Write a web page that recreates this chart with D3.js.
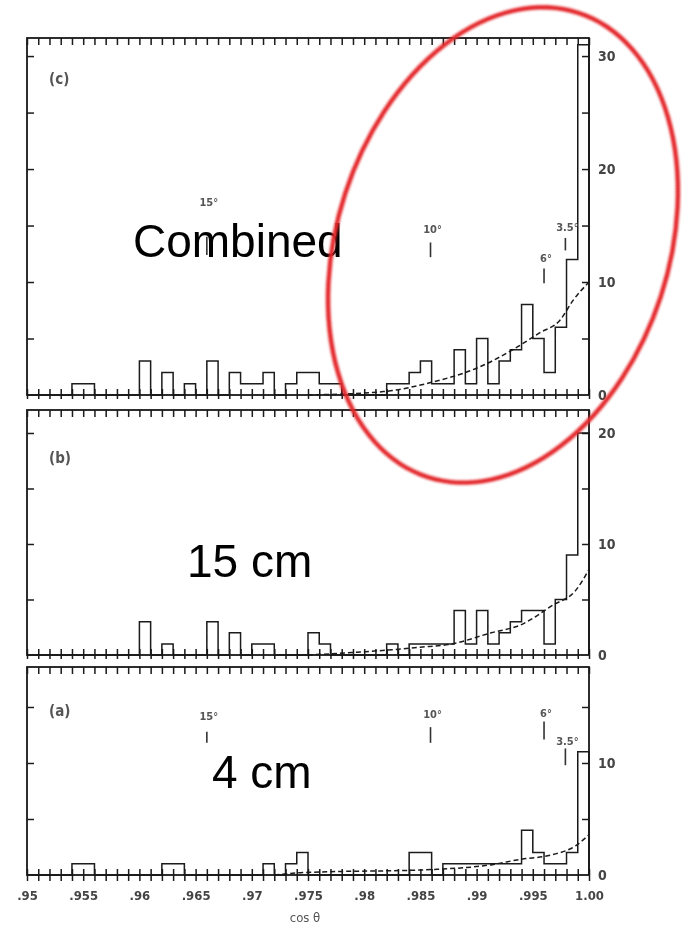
<!DOCTYPE html>
<html lang="en">
<head>
  <meta charset="UTF-8">
  <title>cos theta histograms</title>
  <script src="https://cdnjs.cloudflare.com/ajax/libs/d3/7.8.5/d3.min.js"></script>
  <style>
    body { margin: 0; background: #fff; }
    svg { display: block; }
  </style>
</head>
<body>
<script>
// x axis
const xTickValues = [0.95, 0.955, 0.96, 0.965, 0.97, 0.975, 0.98, 0.985, 0.99, 0.995, 1.0];
const xTickLabels = [".95", ".955", ".96", ".965", ".97", ".975", ".98", ".985", ".99", ".995", "1.00"];
const binStart = 0.95;
const binWidth = 0.001;

// counts per 0.001 bin, from .950 up to 1.000 (50 bins)
const countsC = [0,0,0,0,1,1,0,0,0,0, 3,0,2,0,1,0,3,0,2,1, 1,2,0,1,2,2,1,1,0,0, 0,0,1,1,2,3,1,1,4,1, 5,1,3,4,8,5,2,6,12,31];
const countsB = [0,0,0,0,0,0,0,0,0,0, 3,0,1,0,0,0,3,0,2,0, 1,1,0,0,0,2,1,0,0,0, 0,0,1,0,1,1,1,1,4,1, 4,1,2,3,4,4,1,5,9,20];
const countsA = [0,0,0,0,1,1,0,0,0,0, 0,0,1,1,0,0,0,0,0,0, 0,1,0,1,2,0,0,0,0,0, 0,0,0,0,2,2,0,1,1,1, 1,1,1,1,4,2,1,1,2,11];

// dashed fitted curves
const fitCosC = [0.975, 0.9817, 0.9859, 0.9903, 0.9932, 0.9956, 0.9974, 0.9986, 1.0];
const fitValC = [0, 0.3, 1.1, 2.5, 4.0, 5.5, 6.6, 8.4, 10.0];
const fitCosB = [0.975, 0.9801, 0.9850, 0.9878, 0.9913, 0.9939, 0.9968, 0.9988, 1.0];
const fitValB = [0, 0.3, 0.7, 1.0, 2.0, 2.7, 4.5, 5.8, 7.7];
const fitCosA = [0.972, 0.9743, 0.9863, 0.9912, 0.9939, 0.9967, 0.9988, 1.0];
const fitValA = [0, 0.2, 0.5, 0.9, 1.4, 1.8, 2.6, 3.6];

// angle markers
const markerCos = [0.9660, 0.9859, 0.9960, 0.9979];
const markerLabels = ["15°", "10°", "6°", "3.5°"];

const panelLabels = ["(c)", "(b)", "(a)"];
const overlayLabels = ["Combined", "15 cm", "4 cm"];
const yLabelsC = [0, 10, 20, 30];
const yLabelsB = [0, 10, 20];
const yLabelsA = [0, 10];

const W = 682, H = 930;
const xLeft = 27, xRight = 589;

const svg = d3.select("body").append("svg")
  .attr("width", W).attr("height", H);

const defs = svg.append("defs");
defs.append("filter").attr("id", "scan")
  .append("feGaussianBlur").attr("stdDeviation", 0.55);
defs.append("filter").attr("id", "soft")
  .append("feGaussianBlur").attr("stdDeviation", 0.9);

const x = d3.scaleLinear().domain([0.95, 1.0]).range([xLeft, xRight]);

const minorTicks = d3.range(51).map(i => 0.95 + i * 0.001);

const panels = [
  { counts: countsC, fitCos: fitCosC, fitVal: fitValC, labels: yLabelsC, top: 38, base: 395, max: 31.6,
    name: panelLabels[0], nameY: 84, text: overlayLabels[0], textX: 133, textY: 257,
    markers: [[16.7, 14.0, 12.4], [14.3, 13.5, 12.2], [11.8, 11.2, 9.9], [14.5, 13.9, 12.8]] },
  { counts: countsB, fitCos: fitCosB, fitVal: fitValB, labels: yLabelsB, top: 410, base: 655, max: 22.07,
    name: panelLabels[1], nameY: 463, text: overlayLabels[1], textX: 187, textY: 577, markers: null },
  { counts: countsA, fitCos: fitCosA, fitVal: fitValA, labels: yLabelsA, top: 667, base: 875, max: 18.57,
    name: panelLabels[2], nameY: 716, text: overlayLabels[2], textX: 212, textY: 788,
    markers: [[13.8, 12.8, 11.8], [14.0, 13.2, 11.8], [14.1, 13.7, 12.1], [11.6, 11.3, 9.8]] }
];

const ink = "#1a1a1a";
const scan = svg.append("g").attr("filter", "url(#scan)");

panels.forEach((p, pi) => {
  const y = d3.scaleLinear().domain([0, p.max]).range([p.base, p.top]);
  const g = scan.append("g");

  // frame
  g.append("rect")
    .attr("x", xLeft).attr("y", p.top)
    .attr("width", xRight - xLeft).attr("height", p.base - p.top)
    .attr("fill", "none").attr("stroke", ink).attr("stroke-width", 1.8);

  // ticks along the bottom (crossing the axis line)
  g.append("g").attr("transform", `translate(0,${p.base})`)
    .call(d3.axisTop(x).tickValues(minorTicks).tickSize(6).tickFormat(""))
    .call(a => a.select(".domain").remove());
  g.append("g").attr("transform", `translate(0,${p.base})`)
    .call(d3.axisBottom(x).tickValues(minorTicks).tickSize(pi === 2 ? 6 : 4).tickFormat(""))
    .call(a => a.select(".domain").remove());
  // ticks along the top border
  g.append("g").attr("transform", `translate(0,${p.top})`)
    .call(d3.axisBottom(x).tickValues(minorTicks).tickSize(7).tickFormat(""))
    .call(a => a.select(".domain").remove());

  const fives = d3.range(5, p.max, 5);
  // left inward ticks
  g.append("g").attr("transform", `translate(${xLeft},0)`)
    .call(d3.axisRight(y).tickValues(fives).tickSize(7).tickFormat(""))
    .call(a => a.select(".domain").remove());
  // right inward ticks
  g.append("g").attr("transform", `translate(${xRight},0)`)
    .call(d3.axisLeft(y).tickValues(fives).tickSize(7).tickFormat(""))
    .call(a => a.select(".domain").remove());
  // right labels
  g.append("g").attr("transform", `translate(${xRight},0)`)
    .call(d3.axisRight(y).tickValues(p.labels).tickSize(0).tickPadding(9).tickFormat(d3.format("d")))
    .call(a => a.select(".domain").remove())
    .selectAll("text")
    .attr("font-family", "'DejaVu Sans Condensed', 'DejaVu Sans', sans-serif")
    .attr("font-size", 14).attr("font-weight", "bold").attr("fill", "#444");

  g.selectAll(".tick line").attr("stroke", ink).attr("stroke-width", 1.5);

  // histogram outline
  const pts = [[binStart, 0]];
  p.counts.forEach((c, k) => pts.push([binStart + k * binWidth, c]));
  pts.push([binStart + p.counts.length * binWidth, p.counts[p.counts.length - 1]]);
  pts.push([binStart + p.counts.length * binWidth, 0]);
  const hist = d3.line().x(d => x(d[0])).y(d => y(d[1])).curve(d3.curveStepAfter);
  g.append("path").attr("d", hist(pts))
    .attr("fill", "none").attr("stroke", ink).attr("stroke-width", 1.5);

  // fitted dashed curve
  const fit = d3.line().x((d, i) => x(p.fitCos[i])).y(d => y(d)).curve(d3.curveMonotoneX);
  g.append("path").attr("d", fit(p.fitVal))
    .attr("fill", "none").attr("stroke", ink).attr("stroke-width", 1.5)
    .attr("stroke-dasharray", "5,3");

  // panel letter
  g.append("text").attr("x", 49).attr("y", p.nameY)
    .attr("font-family", "'DejaVu Sans Condensed', sans-serif")
    .attr("font-size", 15).attr("font-weight", "bold").attr("fill", "#555")
    .text(p.name);

  // angle markers
  if (p.markers) {
    p.markers.forEach((m, i) => {
      g.append("text").attr("x", x(markerCos[i]) + 2).attr("y", y(m[0]))
        .attr("text-anchor", "middle")
        .attr("font-family", "'DejaVu Sans Condensed', sans-serif")
        .attr("font-size", 11).attr("font-weight", "bold").attr("fill", "#555")
        .text(markerLabels[i]);
      g.append("line")
        .attr("x1", x(markerCos[i])).attr("x2", x(markerCos[i]))
        .attr("y1", y(m[1])).attr("y2", y(m[2]))
        .attr("stroke", "#333").attr("stroke-width", 1.6);
    });
  }
});

// x tick labels
scan.append("g").attr("transform", `translate(0,${panels[2].base})`)
  .call(d3.axisBottom(x).tickValues(xTickValues).tickSize(0).tickPadding(16)
    .tickFormat((d, i) => xTickLabels[i]))
  .call(a => a.select(".domain").remove())
  .selectAll("text")
  .attr("font-family", "'DejaVu Sans Condensed', sans-serif")
  .attr("font-size", 13).attr("font-weight", "bold").attr("fill", "#444");

scan.append("text").attr("x", 305).attr("y", 922)
  .attr("text-anchor", "middle")
  .attr("font-family", "'DejaVu Sans Condensed', sans-serif")
  .attr("font-size", 13).attr("fill", "#555")
  .text("cos θ");

// overlay captions
panels.forEach(p => {
  svg.append("text").attr("x", p.textX).attr("y", p.textY)
    .attr("font-family", "'Liberation Sans', Arial, sans-serif")
    .attr("font-size", 46).attr("fill", "#000")
    .text(p.text);
});

// red ellipse
svg.append("ellipse")
  .attr("cx", 503).attr("cy", 245).attr("rx", 166).attr("ry", 244)
  .attr("transform", "rotate(18,503,245)")
  .attr("fill", "none").attr("stroke", "#e3262b").attr("stroke-width", 4.5)
  .attr("filter", "url(#soft)");
</script>
</body>
</html>
